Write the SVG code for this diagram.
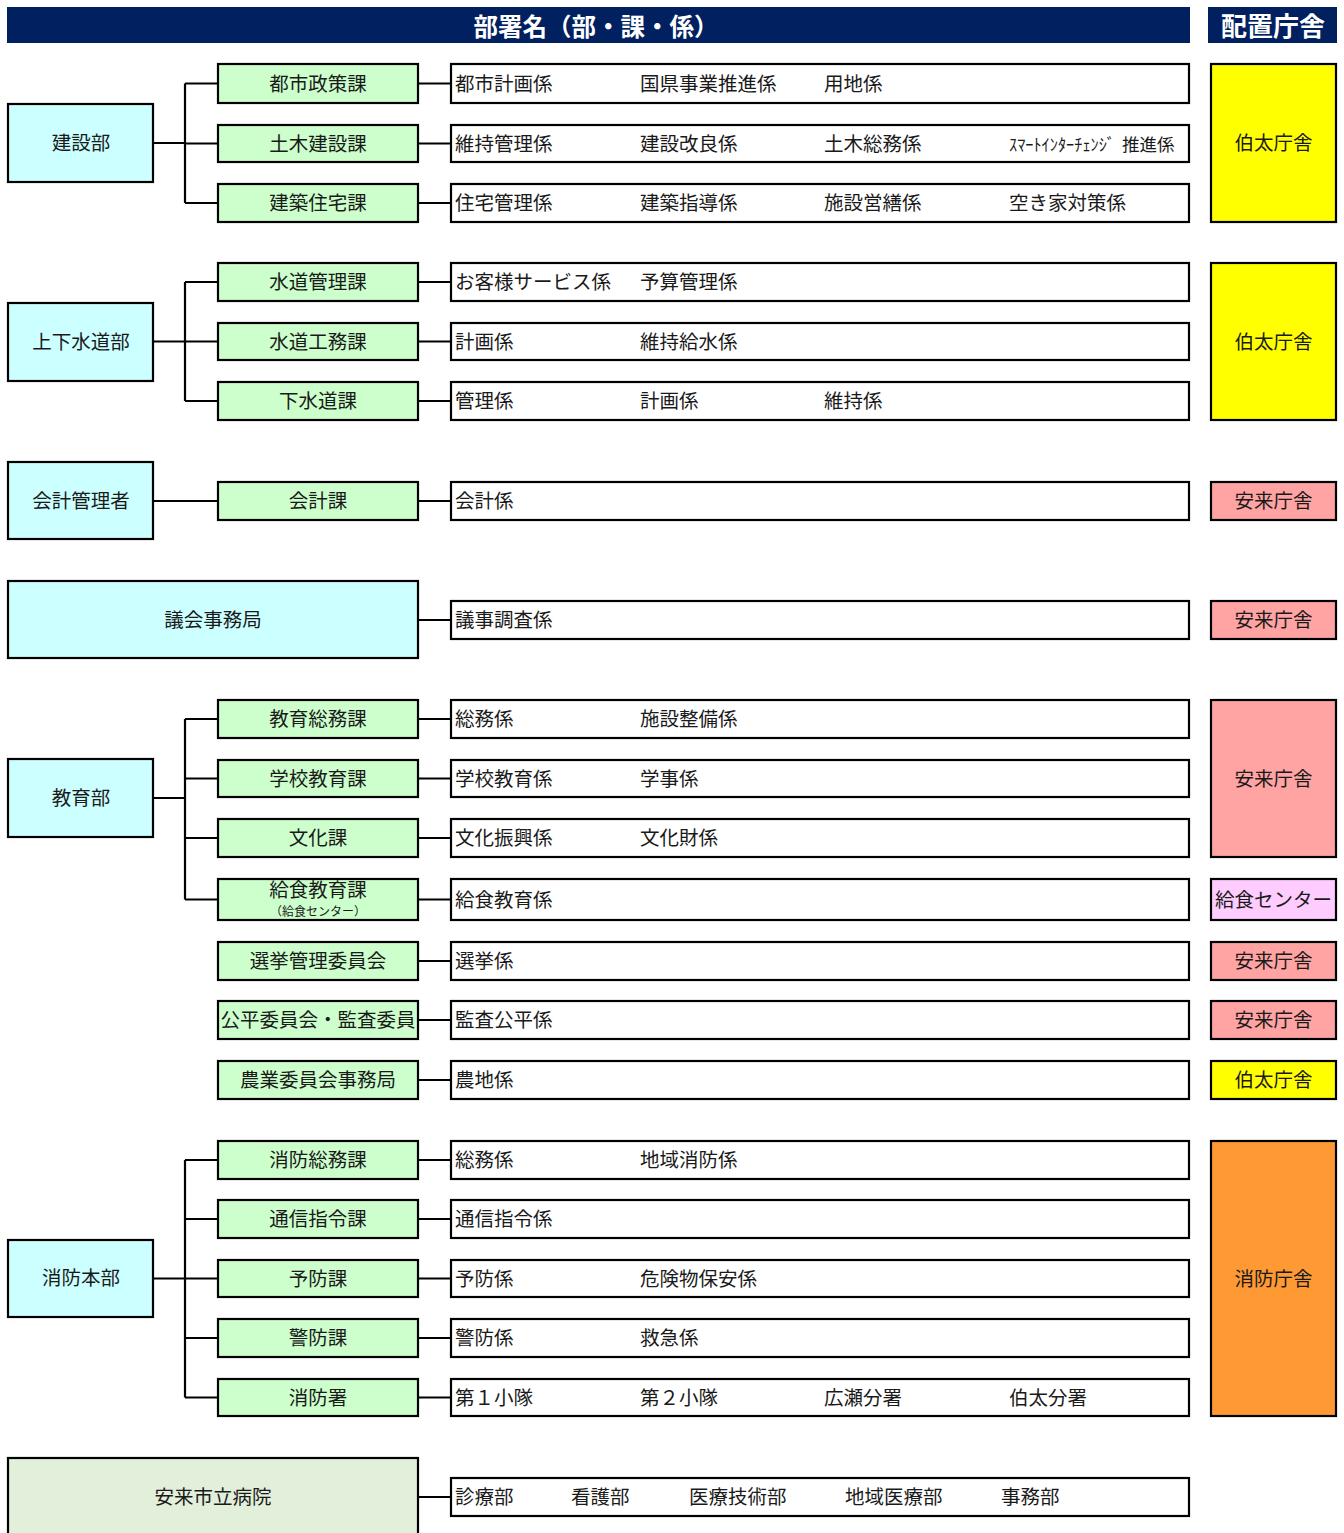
<svg xmlns="http://www.w3.org/2000/svg" width="1344" height="1533" viewBox="0 0 1344 1533">
<style>
text{font-family:"Noto Sans CJK JP","Noto Sans",sans-serif;fill:#1a1a1a;font-size:19.5px}
.box{stroke:#000;stroke-width:2.2}
.dept{fill:#CCFFFF}
.sec{fill:#CCFFCC}
.row{fill:#fff}
.hosp{fill:#E2EFDA}
.yel{fill:#FFFF00}
.pink{fill:#FFA3A3}
.lav{fill:#FFCCFF}
.orn{fill:#FF9933}
.c{text-anchor:middle}
.hd{fill:#fff;font-weight:bold;text-anchor:middle}
#conn path{stroke:#000;stroke-width:2.2;fill:none}
</style>
<rect width="1344" height="1533" fill="#fff"/>
<g id="header">
<rect x="7" y="7" width="1183" height="36" fill="#002060"/>
<text class="hd" x="596" y="36" style="font-size:24.5px">部署名（部・課・係）</text>
<rect x="1208" y="7" width="129" height="36" fill="#002060"/>
<text class="hd" x="1273" y="36" style="font-size:26px">配置庁舎</text>
</g>
<g id="conn">
<path d="M154 143H185M185 83.5V203M185 83.5H217M185 143.5H217M185 203H217"/>
<path d="M154 341.5H185M185 282V401M185 282H217M185 341.5H217M185 401H217"/>
<path d="M154 501H217"/>
<path d="M154 798H185M185 719V899.5M185 719H217M185 778.5H217M185 838H217M185 899.5H217"/>
<path d="M154 1278.5H185M185 1160V1397.5M185 1160H217M185 1219H217M185 1278.5H217M185 1338H217M185 1397.5H217"/>
<path d="M419 83.5H450M419 143.5H450M419 203H450M419 282H450M419 341.5H450M419 401H450M419 501H450M419 620H450M419 719H450M419 778.5H450M419 838H450M419 899.5H450M419 961H450M419 1020H450M419 1080H450M419 1160H450M419 1219H450M419 1278.5H450M419 1338H450M419 1397.5H450M419 1497H450"/>
</g>
<g id="dept-kensetsu"><rect class="box dept" x="8" y="104" width="145" height="78"/><text class="c" x="81" y="150">建設部</text></g>
<g id="dept-suido"><rect class="box dept" x="8" y="303" width="145" height="78"/><text class="c" x="81" y="349">上下水道部</text></g>
<g id="dept-kaikei"><rect class="box dept" x="8" y="462" width="145" height="77"/><text class="c" x="81" y="508">会計管理者</text></g>
<g id="dept-gikai"><rect class="box dept" x="8" y="581" width="410" height="77"/><text class="c" x="213" y="627">議会事務局</text></g>
<g id="dept-kyoiku"><rect class="box dept" x="8" y="759" width="145" height="78"/><text class="c" x="81" y="805">教育部</text></g>
<g id="dept-shobo"><rect class="box dept" x="8" y="1240" width="145" height="77"/><text class="c" x="81" y="1285">消防本部</text></g>
<g id="dept-byoin"><rect class="box hosp" x="8" y="1458" width="410" height="90"/><text class="c" x="213" y="1504">安来市立病院</text></g>

<g id="sec-1"><rect class="box sec" x="218" y="64" width="200" height="39"/><text class="c" x="318" y="90.5">都市政策課</text></g>
<g id="sec-2"><rect class="box sec" x="218" y="125" width="200" height="37"/><text class="c" x="318" y="150.5">土木建設課</text></g>
<g id="sec-3"><rect class="box sec" x="218" y="184" width="200" height="38"/><text class="c" x="318" y="210">建築住宅課</text></g>
<g id="sec-4"><rect class="box sec" x="218" y="263" width="200" height="38"/><text class="c" x="318" y="289">水道管理課</text></g>
<g id="sec-5"><rect class="box sec" x="218" y="323" width="200" height="37"/><text class="c" x="318" y="348.5">水道工務課</text></g>
<g id="sec-6"><rect class="box sec" x="218" y="382" width="200" height="38"/><text class="c" x="318" y="408">下水道課</text></g>
<g id="sec-7"><rect class="box sec" x="218" y="482" width="200" height="38"/><text class="c" x="318" y="508">会計課</text></g>
<g id="sec-9"><rect class="box sec" x="218" y="700" width="200" height="38"/><text class="c" x="318" y="726">教育総務課</text></g>
<g id="sec-10"><rect class="box sec" x="218" y="760" width="200" height="37"/><text class="c" x="318" y="785.5">学校教育課</text></g>
<g id="sec-11"><rect class="box sec" x="218" y="819" width="200" height="38"/><text class="c" x="318" y="845">文化課</text></g>
<g id="sec-12"><rect class="box sec" x="218" y="879" width="200" height="41"/><text class="c" x="318" y="896.5">給食教育課</text><text class="c" x="318" y="916" style="font-size:12px">（給食センター）</text></g>
<g id="sec-13"><rect class="box sec" x="218" y="942" width="200" height="38"/><text class="c" x="318" y="968">選挙管理委員会</text></g>
<g id="sec-14"><rect class="box sec" x="218" y="1001" width="200" height="38"/><text class="c" x="318" y="1027">公平委員会・監査委員</text></g>
<g id="sec-15"><rect class="box sec" x="218" y="1061" width="200" height="38"/><text class="c" x="318" y="1087">農業委員会事務局</text></g>
<g id="sec-16"><rect class="box sec" x="218" y="1141" width="200" height="38"/><text class="c" x="318" y="1167">消防総務課</text></g>
<g id="sec-17"><rect class="box sec" x="218" y="1200" width="200" height="38"/><text class="c" x="318" y="1226">通信指令課</text></g>
<g id="sec-18"><rect class="box sec" x="218" y="1260" width="200" height="37"/><text class="c" x="318" y="1285.5">予防課</text></g>
<g id="sec-19"><rect class="box sec" x="218" y="1319" width="200" height="38"/><text class="c" x="318" y="1345">警防課</text></g>
<g id="sec-20"><rect class="box sec" x="218" y="1379" width="200" height="37"/><text class="c" x="318" y="1404.5">消防署</text></g>

<g id="row-1"><rect class="box row" x="451" y="64" width="738" height="39"/><text x="455" y="90.5">都市計画係</text><text x="640" y="90.5">国県事業推進係</text><text x="824" y="90.5">用地係</text></g>
<g id="row-2"><rect class="box row" x="451" y="125" width="738" height="37"/><text x="455" y="150.5">維持管理係</text><text x="640" y="150.5">建設改良係</text><text x="824" y="150.5">土木総務係</text><text x="1009" y="150.5" textLength="106" lengthAdjust="spacingAndGlyphs" style="font-size:17px">ｽﾏｰﾄｲﾝﾀｰﾁｪﾝｼﾞ</text><text x="1122" y="150.5" style="font-size:17.5px">推進係</text></g>
<g id="row-3"><rect class="box row" x="451" y="184" width="738" height="38"/><text x="455" y="210">住宅管理係</text><text x="640" y="210">建築指導係</text><text x="824" y="210">施設営繕係</text><text x="1009" y="210">空き家対策係</text></g>
<g id="row-4"><rect class="box row" x="451" y="263" width="738" height="38"/><text x="455" y="289">お客様サービス係</text><text x="640" y="289">予算管理係</text></g>
<g id="row-5"><rect class="box row" x="451" y="323" width="738" height="37"/><text x="455" y="348.5">計画係</text><text x="640" y="348.5">維持給水係</text></g>
<g id="row-6"><rect class="box row" x="451" y="382" width="738" height="38"/><text x="455" y="408">管理係</text><text x="640" y="408">計画係</text><text x="824" y="408">維持係</text></g>
<g id="row-7"><rect class="box row" x="451" y="482" width="738" height="38"/><text x="455" y="508">会計係</text></g>
<g id="row-8"><rect class="box row" x="451" y="601" width="738" height="38"/><text x="455" y="627">議事調査係</text></g>
<g id="row-9"><rect class="box row" x="451" y="700" width="738" height="38"/><text x="455" y="726">総務係</text><text x="640" y="726">施設整備係</text></g>
<g id="row-10"><rect class="box row" x="451" y="760" width="738" height="37"/><text x="455" y="785.5">学校教育係</text><text x="640" y="785.5">学事係</text></g>
<g id="row-11"><rect class="box row" x="451" y="819" width="738" height="38"/><text x="455" y="845">文化振興係</text><text x="640" y="845">文化財係</text></g>
<g id="row-12"><rect class="box row" x="451" y="879" width="738" height="41"/><text x="455" y="906.5">給食教育係</text></g>
<g id="row-13"><rect class="box row" x="451" y="942" width="738" height="38"/><text x="455" y="968">選挙係</text></g>
<g id="row-14"><rect class="box row" x="451" y="1001" width="738" height="38"/><text x="455" y="1027">監査公平係</text></g>
<g id="row-15"><rect class="box row" x="451" y="1061" width="738" height="38"/><text x="455" y="1087">農地係</text></g>
<g id="row-16"><rect class="box row" x="451" y="1141" width="738" height="38"/><text x="455" y="1167">総務係</text><text x="640" y="1167">地域消防係</text></g>
<g id="row-17"><rect class="box row" x="451" y="1200" width="738" height="38"/><text x="455" y="1226">通信指令係</text></g>
<g id="row-18"><rect class="box row" x="451" y="1260" width="738" height="37"/><text x="455" y="1285.5">予防係</text><text x="640" y="1285.5">危険物保安係</text></g>
<g id="row-19"><rect class="box row" x="451" y="1319" width="738" height="38"/><text x="455" y="1345">警防係</text><text x="640" y="1345">救急係</text></g>
<g id="row-20"><rect class="box row" x="451" y="1379" width="738" height="37"/><text x="455" y="1404.5">第１小隊</text><text x="640" y="1404.5">第２小隊</text><text x="824" y="1404.5">広瀬分署</text><text x="1009" y="1404.5">伯太分署</text></g>
<g id="row-21"><rect class="box row" x="451" y="1478" width="738" height="38"/><text x="455" y="1504">診療部</text><text x="571" y="1504">看護部</text><text x="689" y="1504">医療技術部</text><text x="845" y="1504">地域医療部</text><text x="1001" y="1504">事務部</text></g>

<g id="place-1"><rect class="box yel" x="1211" y="64" width="125" height="158"/><text class="c" x="1273.5" y="150">伯太庁舎</text></g>
<g id="place-2"><rect class="box yel" x="1211" y="263" width="125" height="157"/><text class="c" x="1273.5" y="349">伯太庁舎</text></g>
<g id="place-3"><rect class="box pink" x="1211" y="482" width="125" height="38"/><text class="c" x="1273.5" y="508">安来庁舎</text></g>
<g id="place-4"><rect class="box pink" x="1211" y="601" width="125" height="38"/><text class="c" x="1273.5" y="627">安来庁舎</text></g>
<g id="place-5"><rect class="box pink" x="1211" y="700" width="125" height="157"/><text class="c" x="1273.5" y="785.5">安来庁舎</text></g>
<g id="place-6"><rect class="box lav" x="1211" y="879" width="125" height="41"/><text class="c" x="1273.5" y="906.5">給食センター</text></g>
<g id="place-7"><rect class="box pink" x="1211" y="942" width="125" height="38"/><text class="c" x="1273.5" y="968">安来庁舎</text></g>
<g id="place-8"><rect class="box pink" x="1211" y="1001" width="125" height="38"/><text class="c" x="1273.5" y="1027">安来庁舎</text></g>
<g id="place-9"><rect class="box yel" x="1211" y="1061" width="125" height="38"/><text class="c" x="1273.5" y="1087">伯太庁舎</text></g>
<g id="place-10"><rect class="box orn" x="1211" y="1141" width="125" height="275"/><text class="c" x="1273.5" y="1285.5">消防庁舎</text></g>
</svg>
